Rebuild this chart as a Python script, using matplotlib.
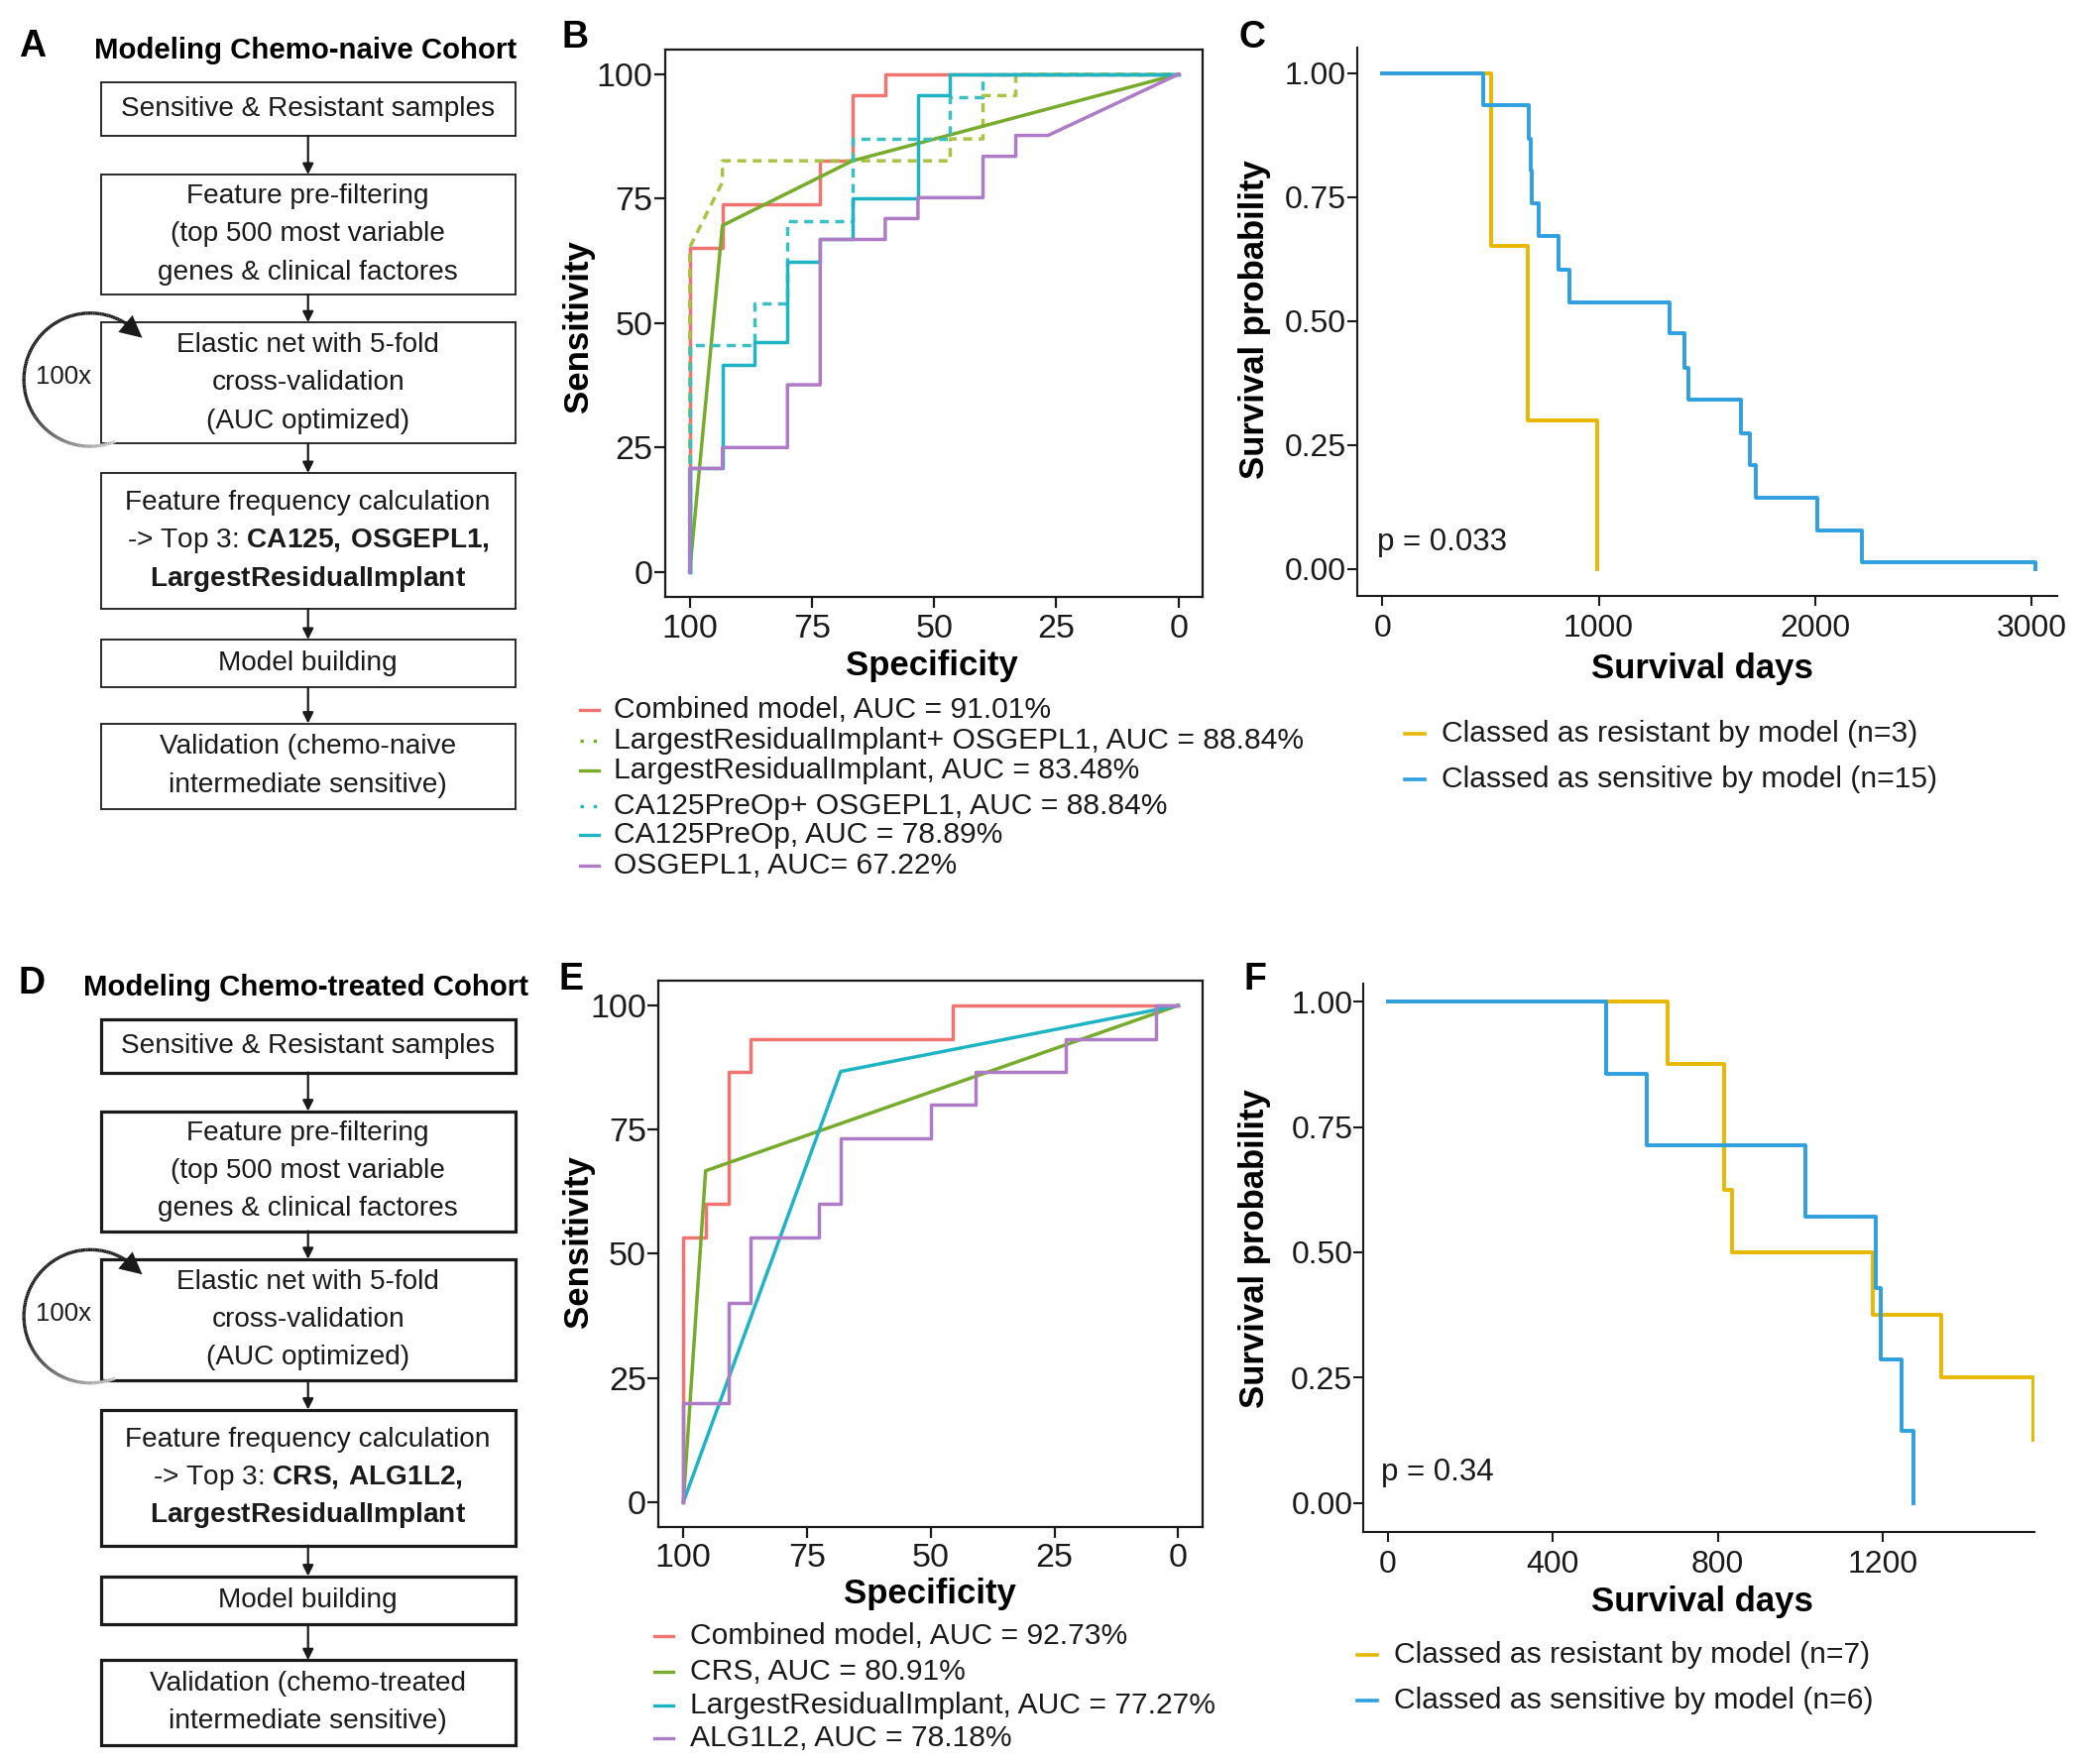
import matplotlib
matplotlib.use('Agg')
import matplotlib.pyplot as plt
import numpy as np
from matplotlib.patches import Rectangle

plt.rcParams['font.family'] = ['Liberation Sans', 'DejaVu Sans']
plt.rcParams['mathtext.fontset'] = 'custom'
plt.rcParams['mathtext.rm'] = 'Liberation Sans'
plt.rcParams['mathtext.bf'] = 'Liberation Sans:bold'

# ---------------- data ----------------
# Panel B (chemo-naive ROC): specificity / sensitivity (%)
b_comb_spec = [100, 100, 93.3, 93.3, 73.3, 73.3, 66.7, 66.7, 60, 60, 0]
b_comb_sens = [0, 65.2, 65.2, 73.9, 73.9, 82.6, 82.6, 95.7, 95.7, 100, 100]
b_lrio_spec = [100, 100, 93.3, 93.3, 46.7, 46.7, 40, 40, 33.3, 33.3, 0]
b_lrio_sens = [0, 65.2, 78.3, 82.6, 82.6, 87.0, 87.0, 95.7, 95.7, 100, 100]
b_lri_spec = [100, 93.3, 66.7, 0]
b_lri_sens = [0, 69.6, 82.6, 100]
b_cao_spec = [100, 100, 86.7, 86.7, 80, 80, 66.7, 66.7, 46.7, 46.7, 40, 40, 0]
b_cao_sens = [0, 45.5, 45.5, 53.9, 53.9, 70.4, 70.4, 87.1, 87.1, 95.4, 95.4, 100, 100]
b_ca_spec = [100, 100, 93.3, 93.3, 86.7, 86.7, 80, 80, 73.3, 73.3, 66.7, 66.7, 53.3, 53.3, 46.7, 46.7, 0]
b_ca_sens = [0, 20.8, 20.8, 41.7, 41.7, 46.1, 46.1, 62.4, 62.4, 66.8, 66.8, 75, 75, 95.8, 95.8, 100, 100]
b_osg_spec = [100, 100, 93.3, 93.3, 80, 80, 73.3, 73.3, 60, 60, 53.3, 53.3, 40, 40, 33.3, 33.3, 26.7, 0]
b_osg_sens = [0, 20.8, 20.8, 25, 25, 37.6, 37.6, 66.8, 66.8, 71, 71, 75.2, 75.2, 83.5, 83.5, 87.7, 87.7, 100]
b_labels = ["Combined model, AUC = 91.01%",
            "LargestResidualImplant+ OSGEPL1, AUC = 88.84%",
            "LargestResidualImplant, AUC = 83.48%",
            "CA125PreOp+ OSGEPL1, AUC = 88.84%",
            "CA125PreOp, AUC = 78.89%",
            "OSGEPL1, AUC= 67.22%"]

# Panel E (chemo-treated ROC)
e_comb_spec = [100, 100, 95.5, 95.5, 90.9, 90.9, 86.4, 86.4, 45.5, 45.5, 0]
e_comb_sens = [0, 53.3, 53.3, 60, 60, 86.7, 86.7, 93.3, 93.3, 100, 100]
e_crs_spec = [100, 95.5, 0]
e_crs_sens = [0, 66.7, 100]
e_lri_spec = [100, 68.2, 0]
e_lri_sens = [0, 86.7, 100]
e_alg_spec = [100, 100, 90.9, 90.9, 86.4, 86.4, 72.7, 72.7, 68.2, 68.2, 50, 50, 40.9, 40.9, 22.7, 22.7, 4.5, 4.5, 0]
e_alg_sens = [0, 20, 20, 40, 40, 53.3, 53.3, 60, 60, 73.3, 73.3, 80, 80, 86.7, 86.7, 93.3, 93.3, 100, 100]
e_labels = ["Combined model, AUC = 92.73%",
            "CRS, AUC = 80.91%",
            "LargestResidualImplant, AUC = 77.27%",
            "ALG1L2, AUC = 78.18%"]

# Panel C (chemo-naive KM)
c_res_t = [0, 502, 672, 993]
c_res_s = [1.0, 0.651, 0.300, 0.0]
c_sen_t = [0, 466, 677, 685, 690, 722, 815, 865, 1329, 1395, 1412, 1658, 1700, 1726, 2009, 2217, 3017]
c_sen_s = [1.0, 0.936, 0.868, 0.804, 0.738, 0.671, 0.604, 0.538, 0.476, 0.406, 0.341,
           0.274, 0.209, 0.143, 0.078, 0.013, 0.0]
c_labels = ["Classed as resistant by model (n=3)", "Classed as sensitive by model (n=15)"]
c_p = "p = 0.033"

# Panel F (chemo-treated KM)
f_res_t = [0, 678, 815, 835, 1176, 1341, 1564]
f_res_s = [1.0, 0.875, 0.625, 0.5, 0.375, 0.25, 0.125]
f_sen_t = [0, 530, 628, 1012, 1183, 1196, 1246, 1275]
f_sen_s = [1.0, 0.857, 0.714, 0.571, 0.429, 0.286, 0.143, 0.0]
f_labels = ["Classed as resistant by model (n=7)", "Classed as sensitive by model (n=6)"]
f_p = "p = 0.34"

roc_ticks = [100, 75, 50, 25, 0]
c_xticks = [0, 1000, 2000, 3000]
f_xticks = [0, 400, 800, 1200]
km_yticks = [0, 0.25, 0.5, 0.75, 1.0]

flow_a = [
    ["Sensitive & Resistant samples"],
    ["Feature pre-filtering", "(top 500 most variable", "genes & clinical factores"],
    ["Elastic net with 5-fold", "cross-validation", "(AUC optimized)"],
    ["Feature frequency calculation", r"-> Top 3: $\mathbf{CA125,\!\ OSGEPL1,}$",
     r"$\mathbf{LargestResidualImplant}$"],
    ["Model building"],
    ["Validation (chemo-naive", "intermediate sensitive)"],
]
flow_d = [
    ["Sensitive & Resistant samples"],
    ["Feature pre-filtering", "(top 500 most variable", "genes & clinical factores"],
    ["Elastic net with 5-fold", "cross-validation", "(AUC optimized)"],
    ["Feature frequency calculation", r"-> Top 3: $\mathbf{CRS,\!\ ALG1L2,}$",
     r"$\mathbf{LargestResidualImplant}$"],
    ["Model building"],
    ["Validation (chemo-treated", "intermediate sensitive)"],
]

RED = '#F07470'
GREEN_D = '#A8C444'
GREEN = '#76AB2B'
TEAL_D = '#3DBFC1'
TEAL = '#1EB4C3'
PURPLE = '#AE7CC6'
ORANGE = '#E7B800'
BLUE = '#2E9FDF'
INK = '#1a1a1a'

# ---------------- layout helpers ----------------
W, H = 1568.0, 1324.0
fig = plt.figure(figsize=(21, 17.79), dpi=100)


def rect(x0, y0, x1, y1):
    return [x0 / W, 1 - y1 / H, (x1 - x0) / W, (y1 - y0) / H]


ov = fig.add_axes([0, 0, 1, 1], zorder=5)
ov.set_xlim(0, W)
ov.set_ylim(H, 0)
ov.axis('off')

# ---------------- flowcharts ----------------
box_y = [(62, 102), (131, 221), (242, 333), (355, 457), (480, 516), (543, 607)]
LINE_GAP = 28.5
BOX_FS = 20.2


def flowchart(dy, letter, title, boxes, lw):
    ov.text(24, 35 + dy, letter, fontsize=27, fontweight='bold', ha='center', va='center')
    ov.text(230, 38 + dy, title, fontsize=21.2, fontweight='bold', ha='center', va='center')
    for i, ((y0, y1), lines) in enumerate(zip(box_y, boxes)):
        ov.add_patch(Rectangle((76, y0 + dy), 312, y1 - y0, fill=False, lw=lw, ec=INK))
        yc = (y0 + y1) / 2 + dy
        n = len(lines)
        for k, txt in enumerate(lines):
            yy = yc + (k - (n - 1) / 2) * LINE_GAP
            ov.text(232, yy, txt, fontsize=BOX_FS, ha='center', va='center', color=INK)
        if i < len(box_y) - 1:
            ov.annotate('', xy=(232, box_y[i + 1][0] + dy), xytext=(232, y1 + dy),
                        arrowprops=dict(arrowstyle='-|>', lw=1.6, color=INK,
                                        mutation_scale=16, shrinkA=0, shrinkB=0))
    # loop arrow (100x)
    cx, cy, r = 68, 285 + dy, 50
    th = np.radians(np.linspace(68, 306, 120))
    xs = cx + r * np.cos(th)
    ys = cy + r * np.sin(th)
    for j in range(len(th) - 1):
        f = min(1.0, (np.degrees(th[j]) - 68) / 90.0)
        g = 0.82 * (1 - f) + 0.13 * f
        ov.plot(xs[j:j + 2], ys[j:j + 2], color=(g, g, g), lw=2.4, solid_capstyle='butt')
    t0, t1 = np.radians(300), np.radians(318)
    ov.annotate('', xy=(cx + r * np.cos(t1) + 2, cy + r * np.sin(t1) + 2),
                xytext=(cx + r * np.cos(t0), cy + r * np.sin(t0)),
                arrowprops=dict(arrowstyle='-|>', lw=0, color=INK, mutation_scale=40,
                                shrinkA=0, shrinkB=0))
    ov.text(48, 283 + dy, "100x", fontsize=18.5, ha='center', va='center', color=INK)


flowchart(0, "A", "Modeling Chemo-naive Cohort", flow_a, 1.3)
flowchart(703, "D", "Modeling Chemo-treated Cohort", flow_d, 2.3)


# ---------------- ROC panels ----------------
def roc_panel(box, curves, letter, lpos, ylab_pos, xlab_pos):
    ax = fig.add_axes(rect(*box))
    for spec, sens, col, ls in curves:
        ax.plot(spec, sens, color=col, lw=2.5, ls=ls)
    ax.set_xlim(105, -5)
    ax.set_ylim(-5, 105)
    ax.set_xticks(roc_ticks)
    ax.set_yticks(roc_ticks)
    ax.set_xticklabels([str(t) for t in roc_ticks])
    ax.set_yticklabels([str(t) for t in roc_ticks])
    ax.tick_params(axis='both', labelsize=24.5, length=8, width=1.6, color=INK, labelcolor=INK)
    ax.tick_params(axis='x', pad=4)
    ax.tick_params(axis='y', pad=1)
    for s in ax.spines.values():
        s.set_linewidth(1.6)
        s.set_color(INK)
    ov.text(lpos[0], lpos[1], letter, fontsize=27, fontweight='bold', ha='center', va='center')
    ov.text(ylab_pos[0], ylab_pos[1], "Sensitivity", fontsize=25, fontweight='bold',
            rotation=90, ha='center', va='center')
    ov.text(xlab_pos[0], xlab_pos[1], "Specificity", fontsize=25, fontweight='bold',
            ha='center', va='center')
    return ax


dash = (0, (2.6, 1.9))
ax_b = roc_panel((501, 37, 906, 448),
                 [(b_comb_spec, b_comb_sens, RED, '-'),
                  (b_lrio_spec, b_lrio_sens, GREEN_D, dash),
                  (b_lri_spec, b_lri_sens, GREEN, '-'),
                  (b_cao_spec, b_cao_sens, TEAL_D, dash),
                  (b_ca_spec, b_ca_sens, TEAL, '-'),
                  (b_osg_spec, b_osg_sens, PURPLE, '-')],
                 "B", (433, 28), (436, 245), (702, 500))

LEG_FS = 21.6
b_leg_y = [533, 556, 578, 605, 627, 650]
b_leg_c = [(RED, '-'), (GREEN, (0, (1, 3))), (GREEN, '-'), (TEAL, (0, (1, 3))), (TEAL, '-'), (PURPLE, '-')]
for y, lab, (c, ls) in zip(b_leg_y, b_labels, b_leg_c):
    ov.plot([437, 451], [y, y], color=c, lw=2.4, ls=ls)
    ov.text(462, y, lab, fontsize=LEG_FS, ha='left', va='center', color=INK)

ax_e = roc_panel((496, 736, 906, 1146),
                 [(e_comb_spec, e_comb_sens, RED, '-'),
                  (e_crs_spec, e_crs_sens, GREEN, '-'),
                  (e_lri_spec, e_lri_sens, TEAL, '-'),
                  (e_alg_spec, e_alg_sens, PURPLE, '-')],
                 "E", (430, 735), (436, 932), (700, 1196))

e_leg_y = [1228, 1255, 1280, 1305]
for y, lab, c in zip(e_leg_y, e_labels, [RED, GREEN, TEAL, PURPLE]):
    ov.plot([493, 507], [y, y], color=c, lw=2.4)
    ov.text(520, y, lab, fontsize=LEG_FS, ha='left', va='center', color=INK)


# ---------------- KM panels ----------------
def km_panel(box, xlim, ylim, xticks, res, sen, letter, lpos, ylab_pos, xlab_pos, ptxt, ppos,
             labels, leg_x, leg_y):
    ax = fig.add_axes(rect(*box))
    ax.step(res[0], res[1], where='post', color=ORANGE, lw=2.8)
    ax.step(sen[0], sen[1], where='post', color=BLUE, lw=2.8)
    ax.set_xlim(*xlim)
    ax.set_ylim(*ylim)
    ax.set_xticks(xticks)
    ax.set_xticklabels([str(t) for t in xticks])
    ax.set_yticks(km_yticks)
    ax.set_yticklabels(["%.2f" % t for t in km_yticks])
    ax.tick_params(axis='both', labelsize=23, length=7, width=1.5, color=INK, labelcolor=INK)
    ax.tick_params(axis='y', pad=1)
    ax.tick_params(axis='x', pad=6)
    for k in ['top', 'right']:
        ax.spines[k].set_visible(False)
    for k in ['left', 'bottom']:
        ax.spines[k].set_linewidth(1.5)
        ax.spines[k].set_color(INK)
    ov.text(lpos[0], lpos[1], letter, fontsize=27, fontweight='bold', ha='center', va='center')
    ov.text(ylab_pos[0], ylab_pos[1], "Survival probability", fontsize=25, fontweight='bold',
            rotation=90, ha='center', va='center')
    ov.text(xlab_pos[0], xlab_pos[1], "Survival days", fontsize=25, fontweight='bold',
            ha='center', va='center')
    ov.text(ppos[0], ppos[1], ptxt, fontsize=22.5, ha='left', va='center', color=INK)
    for y, lab, c in zip(leg_y, labels, [ORANGE, BLUE]):
        ov.plot([leg_x, leg_x + 15], [y, y], color=c, lw=2.6)
        ov.text(leg_x + 28, y, lab, fontsize=LEG_FS, ha='left', va='center', color=INK)
    return ax


km_panel((1022, 36, 1549, 447), (-117, 3116), (-0.054, 1.051), c_xticks,
         (c_res_t, c_res_s), (c_sen_t, c_sen_s), "C", (943, 28), (945, 240), (1282, 502),
         c_p, (1037, 407), c_labels, 1058, [551, 585])

km_panel((1027, 738, 1532, 1150), (-58, 1567), (-0.0585, 1.037), f_xticks,
         (f_res_t, f_res_s), (f_sen_t, f_sen_s), "F", (945, 735), (945, 937), (1282, 1202),
         f_p, (1040, 1105), f_labels, 1022, [1242, 1276])

fig.savefig('out.png', dpi=100, facecolor='white')
